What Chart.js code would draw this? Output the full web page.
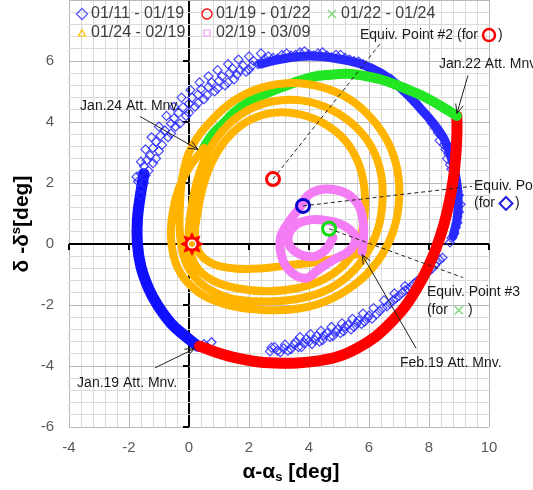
<!DOCTYPE html>
<html>
<head>
<meta charset="utf-8">
<script src="https://cdn.jsdelivr.net/npm/chart.js@4.4.1/dist/chart.umd.min.js"></script>
<style>
  html, body { margin: 0; padding: 0; background: #fff; }
  #wrap { width: 533px; height: 490px; }
</style>
</head>
<body>
<div id="wrap"><canvas id="orbit" width="533" height="490"></canvas></div>
<script>
// axis labels
const xLabels = [-4, -2, 0, 2, 4, 6, 8, 10];
const yLabels = [-6, -4, -2, 0, 2, 4, 6];
const seriesNames = ['01/11 - 01/19', '01/19 - 01/22', '01/22 - 01/24', '01/24 - 02/19', '02/19 - 03/09'];

// 01/11 - 01/19 : individual diamonds
const blueDiamonds = [
  // lower stretch
  [2.7, -3.52], [2.85, -3.38], [3.05, -3.55], [3.2, -3.3], [3.4, -3.45], [3.55, -3.22], [3.75, -3.38],
  [3.9, -3.12], [4.1, -3.28], [4.25, -3.02], [4.45, -3.15], [4.6, -2.92], [4.8, -3.02], [4.95, -2.8],
  [5.15, -2.86], [5.3, -2.65], [5.5, -2.72], [5.65, -2.5], [5.85, -2.55], [6.0, -2.35], [6.25, -2.3],
  [6.45, -2.1], [6.7, -1.95], [6.9, -1.78], [7.1, -1.6], [7.3, -1.48], [7.5, -1.3], [7.7, -1.15],
  [7.9, -0.98], [8.1, -0.8], [8.25, -0.62], [8.45, -0.45],
  [2.75, -3.4], [2.95, -3.5], [3.15, -3.42], [3.3, -3.5], [3.5, -3.3], [3.65, -3.38], [3.85, -3.25],
  [4.0, -3.2], [4.2, -3.15], [4.35, -3.2], [4.5, -3.0], [4.7, -3.05], [4.9, -2.88], [5.05, -2.92],
  [5.2, -2.72], [5.4, -2.8], [5.6, -2.6], [5.75, -2.62], [5.95, -2.42], [6.1, -2.45], [6.35, -2.2],
  [6.6, -2.05], [6.8, -1.85], [7.0, -1.7], [7.2, -1.52], [7.4, -1.4], [7.6, -1.22], [7.8, -1.05],
  [8.0, -0.9], [8.2, -0.7], [8.35, -0.52],
  [3.7, -3.05], [4.05, -2.95], [4.4, -2.85], [4.75, -2.72], [5.1, -2.6], [5.45, -2.45], [5.8, -2.28],
  [6.15, -2.1], [6.5, -1.85], [6.85, -1.62], [7.2, -1.38],
  // right side
  [8.7, 0.05], [8.85, 0.35], [8.95, 0.7], [9.0, 1.05], [8.9, 1.3], [9.0, 1.6], [8.85, 1.95], [8.85, 2.3],
  [8.7, 2.6], [8.65, 2.95], [8.5, 3.25], [8.4, 3.55], [8.2, 3.8], [8.05, 4.05], [7.85, 4.3], [7.65, 4.5],
  [7.45, 4.7], [7.2, 4.95], [7.0, 5.15],
  [8.75, 0.2], [8.9, 0.55], [8.95, 0.9], [9.05, 1.3], [8.95, 1.75], [8.9, 2.1], [8.75, 2.45], [8.6, 2.8],
  [8.55, 3.1], [8.35, 3.4], [8.3, 3.65], [8.1, 3.95], [7.95, 4.2], [7.75, 4.4], [7.55, 4.6], [7.3, 4.85], [7.1, 5.05],
  // top
  [6.75, 5.4], [6.5, 5.5], [6.2, 5.7], [5.95, 5.8], [5.65, 5.98], [5.35, 6.05], [5.05, 6.2], [4.75, 6.12],
  [4.45, 6.28], [4.15, 6.18], [3.85, 6.32], [3.55, 6.2], [3.25, 6.25], [2.95, 6.08], [2.65, 6.15], [2.4, 5.95],
  [6.85, 5.3], [6.6, 5.45], [6.35, 5.62], [6.1, 5.75], [5.8, 5.9], [5.5, 6.0], [5.2, 6.1], [4.9, 6.2],
  [4.6, 6.18], [4.3, 6.25], [4.0, 6.22], [3.7, 6.28], [3.4, 6.18], [3.1, 6.2], [2.8, 6.1], [2.55, 6.05], [2.3, 5.9],
  // upper left, loosely scattered
  [2.15, 6.0], [2.0, 5.72], [1.8, 5.85], [1.6, 5.55], [1.45, 5.75], [1.3, 5.3], [1.1, 5.5], [0.95, 5.1],
  [0.75, 5.3], [0.6, 4.88], [0.4, 5.08], [0.3, 4.62], [0.1, 4.8], [0.0, 4.3], [-0.2, 4.48], [-0.3, 3.95],
  [-0.5, 4.12], [-0.6, 3.62], [-0.8, 3.72], [-0.9, 3.25], [-1.1, 3.35], [-1.1, 2.8], [-1.3, 2.9],
  [-1.35, 2.4], [-1.5, 2.55], [-1.5, 2.0], [-1.7, 2.05], [-1.62, 1.6],
  [2.1, 5.85], [1.9, 5.65], [1.7, 5.7], [1.5, 5.4], [1.35, 5.6], [1.2, 5.2], [1.0, 5.35], [0.85, 5.0],
  [0.65, 5.15], [0.5, 4.75], [0.3, 4.9], [0.2, 4.5], [0.0, 4.6], [-0.1, 4.2], [-0.35, 4.3], [-0.45, 3.85],
  [-0.6, 3.95], [-0.7, 3.5], [-0.95, 3.55], [-1.0, 3.05], [-1.2, 3.15], [-1.2, 2.65], [-1.4, 2.75],
  [-1.45, 2.25], [-1.6, 2.3], [-1.6, 1.8],
  [-1.75, 2.2], [-1.6, 2.7], [-1.45, 3.1], [-1.25, 3.5], [-1.0, 3.85], [-0.75, 4.2], [-0.5, 4.5],
  [-0.25, 4.8], [0.05, 5.05], [0.35, 5.3], [0.65, 5.5], [0.95, 5.7], [1.3, 5.9], [1.65, 6.05], [2.0, 6.15], [2.4, 6.25],
  // at Jan.19
  [0.5, -3.28], [0.75, -3.22]
];
// 01/11 - 01/19 : where the diamonds merge into a solid band
const blueTop = [
  [8.8, 0.25], [8.95, 0.9], [8.97, 1.6], [8.88, 2.3], [8.72, 2.9], [8.5, 3.45], [8.15, 3.95], [7.75, 4.4],
  [7.35, 4.85], [6.9, 5.25], [6.4, 5.6], [5.8, 5.88], [5.1, 6.05], [4.4, 6.15], [3.7, 6.15], [3.0, 6.05], [2.4, 5.9]
];
const blueLeft = [
  [-1.5, 2.3], [-1.62, 1.6], [-1.72, 0.8], [-1.72, 0.0], [-1.6, -0.75], [-1.35, -1.45], [-1.05, -2.0],
  [-0.6, -2.6], [-0.15, -3.0], [0.3, -3.35]
];
// 01/19 - 01/22
const red = [
  [0.35, -3.35], [0.9, -3.55], [1.5, -3.72], [2.2, -3.85], [2.9, -3.9], [3.6, -3.9], [4.3, -3.83],
  [5.0, -3.68], [5.6, -3.42], [6.2, -3.05], [6.7, -2.6], [7.2, -2.05], [7.6, -1.45], [7.95, -0.8],
  [8.25, -0.1], [8.5, 0.65], [8.68, 1.4], [8.82, 2.2], [8.9, 3.0], [8.93, 3.6], [8.93, 4.2]
];
// 01/22 - 01/24
const green = [
  [8.93, 4.2], [8.4, 4.52], [7.9, 4.8], [7.45, 5.0], [6.9, 5.22], [6.37, 5.4], [5.8, 5.52], [5.27, 5.58],
  [4.7, 5.55], [4.13, 5.48], [3.47, 5.28], [2.85, 5.05], [2.37, 4.85], [1.9, 4.6], [1.5, 4.3], [1.15, 3.95],
  [0.8, 3.6], [0.5, 3.15]
];
// 01/24 - 02/19
const orange = [
  [0.5, 3.15], [0.0, 2.5], [-0.35, 1.8], [-0.55, 1.0], [-0.6, 0.2], [-0.45, -0.6], [-0.1, -1.2], [0.5, -1.7],
  [1.3, -2.0], [2.3, -2.15], [3.4, -2.15], [4.5, -1.9], [5.5, -1.35], [6.3, -0.55], [6.8, 0.4], [7.0, 1.4],
  [6.95, 2.4], [6.65, 3.3], [6.1, 4.1], [5.35, 4.75], [4.4, 5.15], [3.4, 5.28], [2.4, 5.12], [1.5, 4.7],
  [0.75, 4.05], [0.1, 3.2], [-0.2, 2.3], [-0.3, 1.3], [-0.3, 0.3], [-0.15, -0.5], [0.2, -1.1], [0.7, -1.5],
  [1.4, -1.78], [2.4, -1.88], [3.5, -1.82], [4.5, -1.55], [5.3, -1.05], [5.9, -0.35], [6.3, 0.5], [6.45, 1.4],
  [6.4, 2.3], [6.1, 3.15], [5.55, 3.85], [4.75, 4.4], [3.8, 4.7], [2.8, 4.68], [1.9, 4.35], [1.15, 3.75],
  [0.6, 2.95], [0.25, 2.0], [0.05, 1.0], [0.0, 0.0], [0.25, -0.75], [0.8, -1.2], [1.6, -1.45], [2.6, -1.55],
  [3.6, -1.45], [4.5, -1.15], [5.2, -0.65], [5.65, 0.05], [5.85, 0.9], [5.85, 1.8], [5.65, 2.65], [5.2, 3.4],
  [4.5, 3.95], [3.7, 4.25], [2.8, 4.3], [2.0, 4.05], [1.35, 3.55], [0.85, 2.85], [0.5, 2.0], [0.3, 1.1],
  [0.2, 0.3], [0.35, -0.3], [0.8, -0.65], [1.5, -0.8], [2.4, -0.8], [3.3, -0.7], [4.2, -0.6], [5.0, -0.45], [5.75, -0.3]
];
// 02/19 - 03/09
const pink = [
  [5.77, -0.26], [5.82, 0.3], [5.78, 0.9], [5.6, 1.35], [5.2, 1.68], [4.55, 1.8], [4.0, 1.62], [3.7, 1.2],
  [3.35, 0.75], [3.05, 0.2], [3.1, -0.45], [3.4, -0.92], [3.9, -1.12], [4.3, -0.85], [4.85, -0.5], [5.35, -0.22],
  [5.55, 0.2], [5.25, 0.55], [4.7, 0.75], [4.1, 0.8], [3.55, 0.62], [3.3, 0.2], [3.5, -0.22], [4.1, -0.42],
  [4.55, -0.2], [4.8, 0.2]
];
// equivalent points and origin mark
const equivPoint1 = [[3.8, 1.25]];
const equivPoint2 = [[2.8, 2.13]];
const equivPoint3 = [[4.67, 0.5]];
const originMark = [[0.1, 0.0]];

const BLUE = '#1010ff', RED = '#ff0000', GREEN = '#22e622', ORANGE = '#ffb400', PINK = '#f47cf4';

const pts = a => a.map(([x, y]) => ({ x, y }));
const near = (v, t) => Math.abs(v - t) < 1e-6;
const isMajor = v => near(v, Math.round(v / 2) * 2);

function band(data, color, width, order) {
    return {
        data: pts(data), showLine: true, borderColor: color, borderWidth: width, tension: 0.4,
        pointRadius: 0, borderCapStyle: 'round', borderJoinStyle: 'round', fill: false, order: order
    };
}

function ring(data, color, order) {
    return {
        data: pts(data), pointStyle: 'circle', pointRadius: 6.5, borderWidth: 3,
        borderColor: color, backgroundColor: 'rgba(0,0,0,0)', showLine: false, order: order
    };
}

function starImage() {
    const c = document.createElement('canvas');
    c.width = 26; c.height = 26;
    const g = c.getContext('2d');
    g.beginPath();
    for (let i = 0; i < 16; i++) {
        const r = i % 2 === 0 ? 12 : 7;
        const a = -Math.PI / 2 + i * Math.PI / 8;
        g.lineTo(13 + r * Math.cos(a), 13 + r * Math.sin(a));
    }
    g.closePath();
    g.fillStyle = RED;
    g.fill();
    g.beginPath();
    g.arc(13, 13, 4.5, 0, 2 * Math.PI);
    g.fillStyle = '#fff';
    g.fill();
    g.beginPath();
    g.arc(13, 13, 3, 0, 2 * Math.PI);
    g.fillStyle = '#ffb000';
    g.fill();
    return c;
}

// annotations, in data units
const dashes = [
    { from: equivPoint2[0], to: [6.4, 6.6] },
    { from: equivPoint1[0], to: [9.43, 1.89] },
    { from: equivPoint3[0], to: [9.13, -1.1] }
];
const arrows = [
    { from: [9.3, 5.53], to: [8.93, 4.28] },
    { from: [-1.63, 4.18], to: [0.3, 3.1] },
    { from: [7.57, -3.42], to: [5.77, -0.35] },
    { from: [-1.13, -4.06], to: [0.18, -3.43] }
];
const notes = [
    { text: 'Equiv. Point #2 (for', at: [5.7, 6.85], icon: 'circle' },
    { text: 'Jan.22 Att. Mnv', at: [8.33, 5.9] },
    { text: 'Jan.24 Att. Mnv.', at: [-3.63, 4.51] },
    { text: 'Equiv. Point #1', at: [9.5, 1.89] },
    { text: '(for', at: [9.5, 1.33], icon: 'diamond' },
    { text: 'Equiv. Point #3', at: [7.93, -1.57] },
    { text: '(for', at: [7.93, -2.17], icon: 'cross' },
    { text: 'Feb.19 Att. Mnv.', at: [7.03, -3.9] },
    { text: 'Jan.19 Att. Mnv.', at: [-3.73, -4.55] }
];

function drawIcon(ctx, kind, cx, cy, big) {
    ctx.save();
    ctx.beginPath();
    if (kind === 'circle') {
        ctx.strokeStyle = RED; ctx.lineWidth = big ? 2.5 : 1.3;
        ctx.arc(cx, cy, big ? 6 : 5, 0, 2 * Math.PI);
    } else if (kind === 'diamond') {
        const r = big ? 6.5 : 5.5;
        ctx.strokeStyle = big ? '#2020e0' : '#5a5aff'; ctx.lineWidth = big ? 2 : 1.3;
        ctx.moveTo(cx, cy - r); ctx.lineTo(cx + r, cy); ctx.lineTo(cx, cy + r); ctx.lineTo(cx - r, cy); ctx.closePath();
    } else if (kind === 'cross') {
        const r = 4;
        ctx.strokeStyle = '#7ed87e'; ctx.lineWidth = 1.5;
        ctx.moveTo(cx - r, cy - r); ctx.lineTo(cx + r, cy + r);
        ctx.moveTo(cx + r, cy - r); ctx.lineTo(cx - r, cy + r);
    } else if (kind === 'triangle') {
        ctx.strokeStyle = '#ffc000'; ctx.lineWidth = 1.2;
        ctx.moveTo(cx, cy - 3.5); ctx.lineTo(cx + 3.5, cy + 3); ctx.lineTo(cx - 3.5, cy + 3); ctx.closePath();
    } else if (kind === 'square') {
        ctx.strokeStyle = '#f0a0f0'; ctx.lineWidth = 1.2;
        ctx.rect(cx - 3, cy - 3, 6, 6);
    }
    ctx.stroke();
    ctx.restore();
}

function arrowLine(ctx, a, b) {
    ctx.beginPath();
    ctx.moveTo(a[0], a[1]);
    ctx.lineTo(b[0], b[1]);
    ctx.stroke();
    const ang = Math.atan2(b[1] - a[1], b[0] - a[0]);
    const L = 10, s = 0.4;
    ctx.beginPath();
    ctx.moveTo(b[0] - L * Math.cos(ang - s), b[1] - L * Math.sin(ang - s));
    ctx.lineTo(b[0], b[1]);
    ctx.lineTo(b[0] - L * Math.cos(ang + s), b[1] - L * Math.sin(ang + s));
    ctx.stroke();
}

// tick marks on the black zero axes
const axisTicks = {
    id: 'axisTicks',
    beforeDatasetsDraw(chart) {
        const { ctx, scales: { x, y } } = chart;
        const x0 = x.getPixelForValue(0), y0 = y.getPixelForValue(0);
        ctx.save();
        ctx.strokeStyle = '#000';
        ctx.lineWidth = 2;
        ctx.beginPath();
        xLabels.forEach(v => { const px = x.getPixelForValue(v); ctx.moveTo(px, y0); ctx.lineTo(px, y0 + 6); });
        yLabels.forEach(v => { const py = y.getPixelForValue(v); ctx.moveTo(x0 - 6, py); ctx.lineTo(x0, py); });
        ctx.stroke();
        ctx.restore();
    }
};

const notesPlugin = {
    id: 'notes',
    afterDatasetsDraw(chart) {
        const { ctx, scales: { x, y } } = chart;
        const P = p => [x.getPixelForValue(p[0]), y.getPixelForValue(p[1])];
        ctx.save();
        ctx.strokeStyle = '#222';
        ctx.lineWidth = 1;
        ctx.setLineDash([4, 3]);
        dashes.forEach(d => {
            const a = P(d.from), b = P(d.to);
            ctx.beginPath(); ctx.moveTo(a[0], a[1]); ctx.lineTo(b[0], b[1]); ctx.stroke();
        });
        ctx.setLineDash([]);
        arrows.forEach(d => arrowLine(ctx, P(d.from), P(d.to)));

        ctx.font = '14px "Liberation Sans", Arial, sans-serif';
        ctx.fillStyle = '#1a1a1a';
        ctx.textBaseline = 'middle';
        ctx.textAlign = 'left';
        notes.forEach(n => {
            const [px, py] = P(n.at);
            ctx.fillText(n.text, px, py);
            if (n.icon) {
                const w = ctx.measureText(n.text).width;
                drawIcon(ctx, n.icon, px + w + 11, py, true);
                ctx.fillText(')', px + w + 20, py);
            }
        });
        ctx.restore();
    }
};

const labelsPlugin = {
    id: 'labels',
    afterDraw(chart) {
        const { ctx, chartArea } = chart;
        ctx.save();
        ctx.fillStyle = '#000';
        ctx.textBaseline = 'middle';
        ctx.textAlign = 'left';
        const rich = (parts, cx, cy) => {
            let total = 0;
            parts.forEach(p => {
                ctx.font = 'bold ' + p.size + 'px "Liberation Sans", Arial, sans-serif';
                p.w = ctx.measureText(p.t).width;
                total += p.w;
            });
            let xx = cx - total / 2;
            parts.forEach(p => {
                ctx.font = 'bold ' + p.size + 'px "Liberation Sans", Arial, sans-serif';
                ctx.fillText(p.t, xx, cy + p.dy);
                xx += p.w;
            });
        };
        rich([{ t: 'α-α', size: 21, dy: 0 }, { t: 's', size: 13, dy: 5 }, { t: ' [deg]', size: 21, dy: 0 }],
            (chartArea.left + chartArea.right) / 2 + 12, 472);
        ctx.save();
        ctx.translate(22, 224);
        ctx.rotate(-Math.PI / 2);
        rich([{ t: 'δ -δ', size: 21, dy: 0 }, { t: 's', size: 13, dy: -6 }, { t: '[deg]', size: 21, dy: 0 }], 0, 0);
        ctx.restore();

        // legend, top left inside the plot
        const icons = ['diamond', 'circle', 'cross', 'triangle', 'square'];
        ctx.font = '16px "Liberation Sans", Arial, sans-serif';
        ctx.fillStyle = '#404040';
        seriesNames.forEach((name, i) => {
            const col = i < 3 ? i : i - 3;
            const row = i < 3 ? 0 : 1;
            const lx = chartArea.left + 13 + col * 125;
            const ly = 14 + row * 19;
            drawIcon(ctx, icons[i], lx, ly, false);
            ctx.fillText(name, lx + 9, ly);
        });
        ctx.restore();
    }
};

const datasets = [
    band(blueLeft, BLUE, 11, 8),
    band(blueTop, 'rgba(20,20,255,0.9)', 9, 8),
    {
        data: pts(blueDiamonds), pointStyle: 'rectRot', pointRadius: 4.5, borderWidth: 1.2,
        borderColor: 'rgba(40,40,255,0.85)', backgroundColor: 'rgba(0,0,0,0)', showLine: false, order: 7
    },
    band(red, RED, 11, 6),
    band(green, GREEN, 10, 5),
    band(orange, ORANGE, 8, 4),
    band(pink, PINK, 9, 3),
    ring(equivPoint2, RED, 1),
    ring(equivPoint1, '#0000cc', 1),
    ring(equivPoint3, '#11dd11', 1),
    { data: pts(originMark), pointStyle: starImage(), pointRadius: 12, showLine: false, order: 0 }
];

const tickFont = { family: '"Liberation Sans", Arial, sans-serif', size: 15 };
const gridColor = c => {
    const v = c.tick ? c.tick.value : NaN;
    if (near(v, 0)) return '#000';
    return isMajor(v) ? '#b8b8b8' : '#dadada';
};
const gridWidth = c => (c.tick && near(c.tick.value, 0)) ? 2 : 1;

new Chart(document.getElementById('orbit'), {
    type: 'scatter',
    data: { datasets },
    options: {
        responsive: false,
        animation: false,
        events: [],
        layout: { autoPadding: false, padding: { left: 0, right: 44, top: 0, bottom: 0 } },
        plugins: { legend: { display: false }, tooltip: { enabled: false } },
        scales: {
            x: {
                type: 'linear', min: -4, max: 10,
                ticks: {
                    stepSize: 0.4, maxTicksLimit: 100, autoSkip: false, maxRotation: 0, padding: 12,
                    color: '#595959', font: tickFont,
                    callback: v => {
                        const r = Math.round(v);
                        return (near(v, r) && xLabels.includes(r)) ? String(r) : '';
                    }
                },
                grid: { color: gridColor, lineWidth: gridWidth, drawTicks: false },
                border: { display: false },
                afterFit: s => { s.height = 63; s.paddingLeft = 0; s.paddingRight = 0; }
            },
            y: {
                type: 'linear', min: -6, max: 8,
                ticks: {
                    stepSize: 0.4, maxTicksLimit: 100, autoSkip: false, padding: 15,
                    color: '#595959', font: tickFont,
                    callback: v => {
                        const r = Math.round(v);
                        return (near(v, r) && yLabels.includes(r)) ? String(r) : '';
                    }
                },
                grid: { color: gridColor, lineWidth: gridWidth, drawTicks: false },
                border: { display: false },
                afterFit: s => { s.width = 69; s.paddingTop = 0; s.paddingBottom = 0; }
            }
        }
    },
    plugins: [axisTicks, notesPlugin, labelsPlugin]
});
</script>
</body>
</html>
